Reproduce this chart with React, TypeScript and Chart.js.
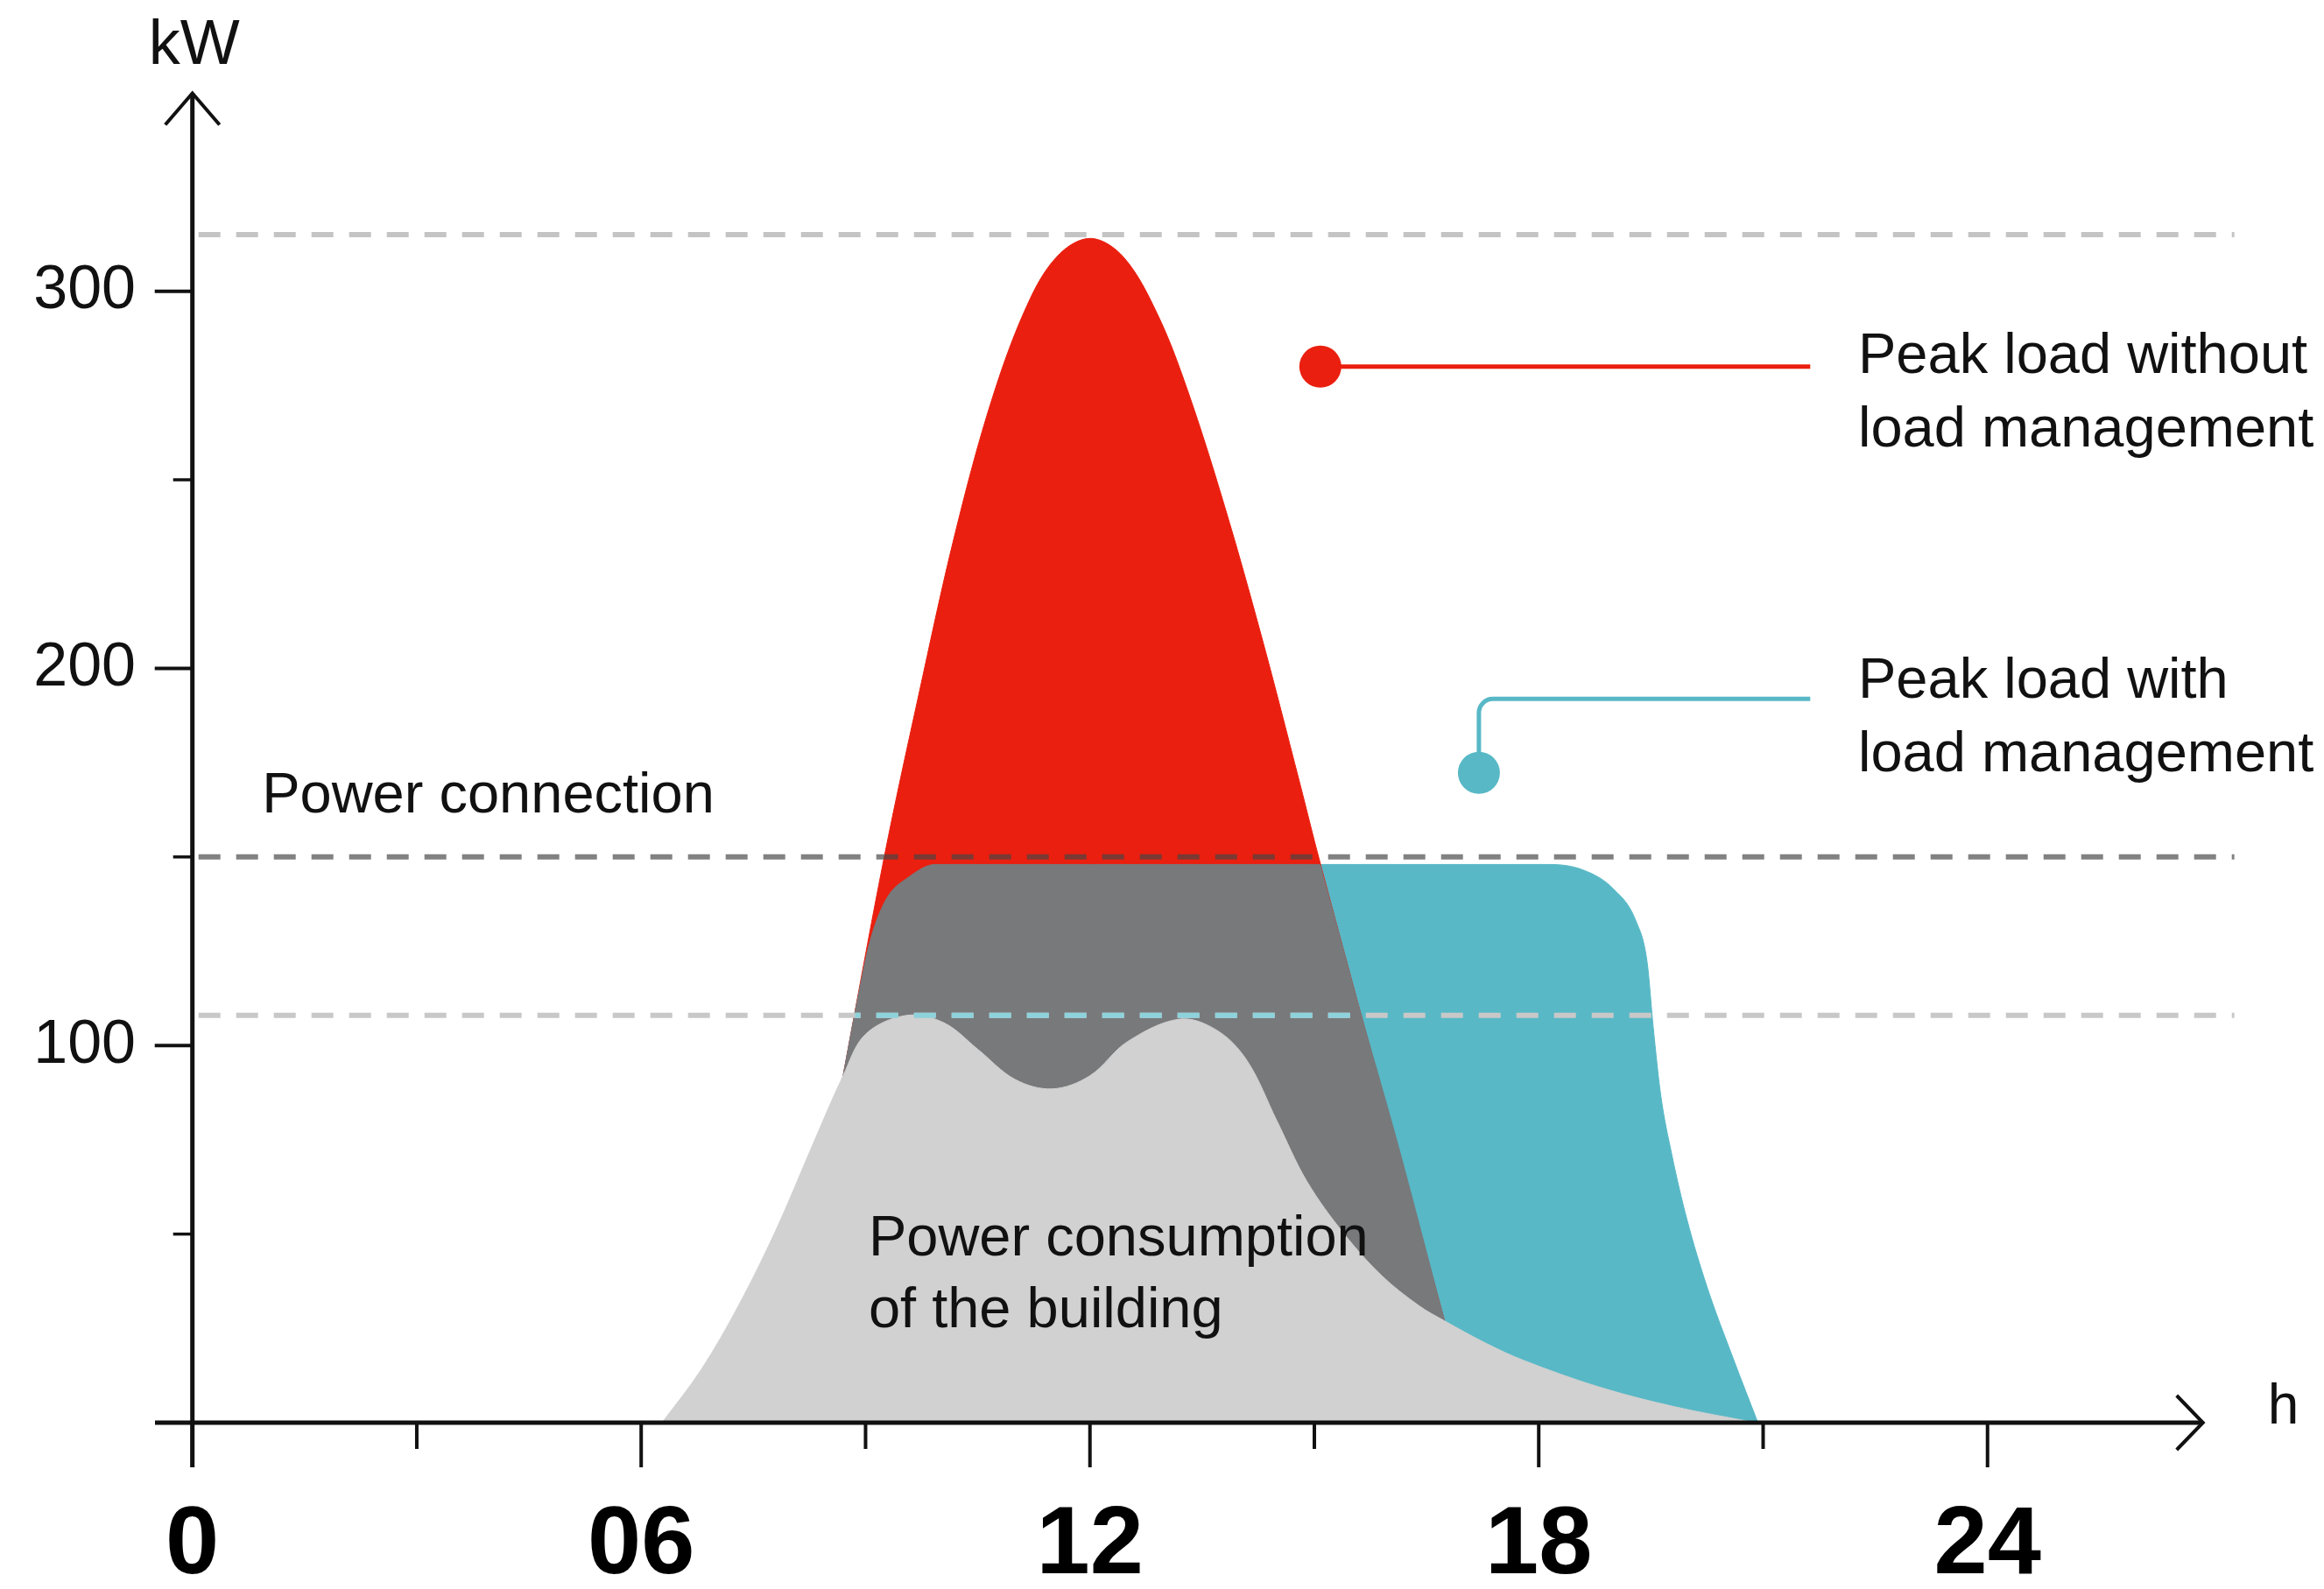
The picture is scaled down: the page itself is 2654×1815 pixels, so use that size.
import React, { useEffect, useRef } from "react";
import { Chart, registerables } from "chart.js";

Chart.register(...registerables);

// ---- data (hours of the day, kW) ----
const hourTicks = [0, 6, 12, 18, 24];
const minorHourTicks = [3, 9, 15, 21];
const kwTicks = [100, 200, 300];
const minorKwTicks = [50, 150, 250];

// Power consumption of the building (light grey)
const buildingX = [6.28, 6.8, 7.3, 7.8, 8.3, 8.7, 9.0, 9.55, 10.05, 10.5, 11.0, 11.5, 12.0, 12.5, 13.2, 13.7, 14.1, 14.5, 14.9, 15.4, 15.9, 16.4, 16.74, 17.3, 17.8, 18.8, 19.8, 20.9];
const buildingY = [0, 14, 31, 51, 74, 92, 103, 108, 106, 99, 91, 88.5, 92, 101, 107, 104, 96, 80, 64, 50, 39, 31, 27, 21, 16.5, 9.5, 4.3, 0];

// Peak load without load management (red)
const withoutX = [7.85, 8.71, 9.25, 9.7, 10.2, 10.7, 11.2, 11.6, 12.02, 12.45, 12.9, 13.3, 13.8, 14.3, 14.8, 15.07, 15.9, 16.74, 17.1];
const withoutY = [0, 93, 150, 192, 236, 272, 298, 310, 314, 309, 294, 274, 243, 208, 170, 149, 88, 27, 0];

// Peak load with load management (teal)
const withX = [7.85, 8.71, 8.92, 9.05, 9.27, 9.58, 9.93, 12, 15, 18.14, 18.6, 19.0, 19.3, 19.45, 19.53, 19.63, 19.78, 19.98, 20.25, 20.6, 20.93];
const withY = [0, 93, 115, 127, 138.6, 144.7, 148, 148, 148, 148, 146.5, 141.5, 133, 122, 105, 87, 71, 54, 36, 17, 0];

// Part of the managed load lying under the unmanaged curve (dark grey)
const sharedX = [7.85, 8.71, 8.92, 9.05, 9.27, 9.58, 9.93, 12, 14.9, 15.07, 15.13, 15.6, 16.1, 16.74, 17.1];
const sharedY = [0, 93, 115, 127, 138.6, 144.7, 148, 148, 148, 148, 144, 110, 75, 27, 0];

// reference levels (kW)
const peakLevel = 315;
const powerConnectionLevel = 150;
const managedLevel = 108;

// callouts [hour, kW]
const redMarker = [15.08, 280];
const tealMarker = [17.2, 172.3];
const tealElbowKw = 191.9;
const calloutEndHour = 21.63;

const RED = "#EA1F0F";
const TEAL = "#58B8C6";
const DARK = "#78797B";
const LIGHT = "#D1D1D1";
const INK = "#111111";

const W = 2654;
const H = 1815;

const pts = (xs: number[], ys: number[]) => xs.map((x, i) => ({ x, y: ys[i] }));

const area = (xs: number[], ys: number[], color: string, smooth: "monotone" | "bezier") => ({
  data: pts(xs, ys),
  fill: "origin",
  backgroundColor: color,
  borderColor: color,
  borderWidth: 1,
  pointRadius: 0,
  cubicInterpolationMode: smooth === "monotone" ? "monotone" : "default",
  tension: smooth === "monotone" ? 0 : 0.35,
});

const overlayPlugin = {
  id: "overlay",
  afterDatasetsDraw(chart: any) {
    const { ctx, scales } = chart;
    const xs = scales.x;
    const ys = scales.y;
    const X = (v: number) => xs.getPixelForValue(v);
    const Y = (v: number) => ys.getPixelForValue(v);
    const x0 = X(0) + 7;
    const x1 = X(27.3);
    const dash = (v: number, color: string) => {
      ctx.strokeStyle = color;
      ctx.beginPath();
      ctx.moveTo(x0, Y(v));
      ctx.lineTo(x1, Y(v));
      ctx.stroke();
    };
    ctx.save();
    ctx.lineWidth = 6;
    ctx.lineCap = "butt";
    ctx.setLineDash([25, 18]);
    dash(peakLevel, "#C4C4C4");
    dash(powerConnectionLevel, "rgba(70,70,70,0.68)");
    dash(managedLevel, "#C8C8C8");
    ctx.save();
    ctx.beginPath();
    ctx.rect(X(8.86), 0, X(15.63) - X(8.86), H);
    ctx.clip();
    dash(managedLevel, "#8ED2DB");
    ctx.restore();
    ctx.restore();
  },
  afterDraw(chart: any) {
    const { ctx, scales } = chart;
    const xs = scales.x;
    const ys = scales.y;
    const X = (v: number) => xs.getPixelForValue(v);
    const Y = (v: number) => ys.getPixelForValue(v);
    const ax = X(0);
    const ay = Y(0);
    ctx.save();
    ctx.strokeStyle = INK;
    ctx.fillStyle = INK;
    ctx.lineCap = "butt";

    // axes
    ctx.lineWidth = 5;
    ctx.beginPath();
    ctx.moveTo(ax, ay + 51);
    ctx.lineTo(ax, Y(352.5));
    ctx.stroke();
    ctx.beginPath();
    ctx.moveTo(X(-0.5), ay);
    ctx.lineTo(X(26.88), ay);
    ctx.stroke();

    // arrows
    ctx.lineWidth = 4;
    ctx.lineJoin = "miter";
    const ty = Y(352.5);
    ctx.beginPath();
    ctx.moveTo(ax - 31, ty + 36);
    ctx.lineTo(ax, ty);
    ctx.lineTo(ax + 31, ty + 36);
    ctx.stroke();
    const tx = X(26.88);
    ctx.beginPath();
    ctx.moveTo(tx - 30, ay - 31);
    ctx.lineTo(tx, ay);
    ctx.lineTo(tx - 30, ay + 31);
    ctx.stroke();

    // tick marks
    ctx.lineWidth = 4;
    hourTicks.forEach((h) => {
      ctx.beginPath();
      ctx.moveTo(X(h), ay);
      ctx.lineTo(X(h), ay + 51);
      ctx.stroke();
    });
    minorHourTicks.forEach((h) => {
      ctx.beginPath();
      ctx.moveTo(X(h), ay);
      ctx.lineTo(X(h), ay + 30);
      ctx.stroke();
    });
    kwTicks.forEach((v) => {
      ctx.beginPath();
      ctx.moveTo(ax - 43, Y(v));
      ctx.lineTo(ax, Y(v));
      ctx.stroke();
    });
    ctx.lineWidth = 3.5;
    minorKwTicks.forEach((v) => {
      ctx.beginPath();
      ctx.moveTo(ax - 22, Y(v));
      ctx.lineTo(ax, Y(v));
      ctx.stroke();
    });

    // axis units
    ctx.textBaseline = "alphabetic";
    ctx.textAlign = "center";
    ctx.font = '72px "Liberation Sans", Arial, sans-serif';
    ctx.fillText("kW", ax + 2, 73);
    ctx.textAlign = "left";
    ctx.font = '64px "Liberation Sans", Arial, sans-serif';
    ctx.fillText("h", tx + 74, ay + 1);

    // annotations
    ctx.font = '65px "Liberation Sans", Arial, sans-serif';
    ctx.fillText("Power connection", X(0.93), Y(161.9));
    ctx.fillText("Power consumption", X(9.04), Y(44.45));
    ctx.fillText("of the building", X(9.04), Y(25.3));
    ctx.fillText("Peak load without", X(22.27), Y(278.4));
    ctx.fillText("load management", X(22.27), Y(258.8));
    ctx.fillText("Peak load with", X(22.27), Y(192.2));
    ctx.fillText("load management", X(22.27), Y(172.7));

    // red callout
    ctx.strokeStyle = RED;
    ctx.fillStyle = RED;
    ctx.lineWidth = 5;
    ctx.beginPath();
    ctx.moveTo(X(redMarker[0]), Y(redMarker[1]));
    ctx.lineTo(X(calloutEndHour), Y(redMarker[1]));
    ctx.stroke();
    ctx.beginPath();
    ctx.arc(X(redMarker[0]), Y(redMarker[1]), 24, 0, Math.PI * 2);
    ctx.fill();

    // teal callout
    ctx.strokeStyle = TEAL;
    ctx.fillStyle = TEAL;
    const r = 16;
    const mx = X(tealMarker[0]);
    const ey = Y(tealElbowKw);
    ctx.beginPath();
    ctx.moveTo(mx, Y(tealMarker[1]));
    ctx.lineTo(mx, ey + r);
    ctx.arcTo(mx, ey, mx + r, ey, r);
    ctx.lineTo(X(calloutEndHour), ey);
    ctx.stroke();
    ctx.beginPath();
    ctx.arc(mx, Y(tealMarker[1]), 24, 0, Math.PI * 2);
    ctx.fill();

    ctx.restore();
  },
};

export default function App() {
  const ref = useRef<HTMLCanvasElement>(null);
  useEffect(() => {
    const canvas = ref.current;
    if (!canvas) return;
    const chart = new Chart(canvas, {
      type: "line",
      data: {
        datasets: [
          area(buildingX, buildingY, LIGHT, "bezier"),
          area(sharedX, sharedY, DARK, "monotone"),
          area(withoutX, withoutY, RED, "bezier"),
          area(withX, withY, TEAL, "monotone"),
        ] as any,
      },
      options: {
        animation: false,
        responsive: false,
        maintainAspectRatio: false,
        devicePixelRatio: 1,
        layout: { padding: { top: 100, right: 128, left: 0, bottom: 0 } },
        plugins: {
          legend: { display: false },
          tooltip: { enabled: false },
          filler: { propagate: false },
        },
        scales: {
          x: {
            type: "linear",
            min: -0.5,
            max: 27,
            grid: { display: false, drawTicks: false },
            border: { display: false },
            afterBuildTicks: (scale: any) => {
              scale.ticks = hourTicks.map((v) => ({ value: v }));
            },
            afterFit: (scale: any) => {
              scale.height = 190;
            },
            ticks: {
              padding: 76,
              autoSkip: false,
              maxRotation: 0,
              color: "#000",
              font: { family: '"Liberation Sans", Arial, sans-serif', size: 110, weight: "bold" },
              callback: (v: any) => (Number(v) === 0 ? "0" : String(v).padStart(2, "0")),
            },
          },
          y: {
            type: "linear",
            min: 0,
            max: 354,
            grid: { display: false, drawTicks: false },
            border: { display: false },
            afterBuildTicks: (scale: any) => {
              scale.ticks = kwTicks.map((v) => ({ value: v }));
            },
            afterFit: (scale: any) => {
              scale.width = 177;
            },
            ticks: {
              padding: 22,
              color: INK,
              font: { family: '"Liberation Sans", Arial, sans-serif', size: 70 },
              callback: (v: any) => String(v),
            },
          },
        },
      },
      plugins: [overlayPlugin],
    });
    return () => chart.destroy();
  }, []);
  return (
    <div style={{ position: "absolute", left: 0, top: 0, width: W, height: H, background: "#fff" }}>
      <canvas ref={ref} width={W} height={H} style={{ display: "block", width: W, height: H }} />
    </div>
  );
}
